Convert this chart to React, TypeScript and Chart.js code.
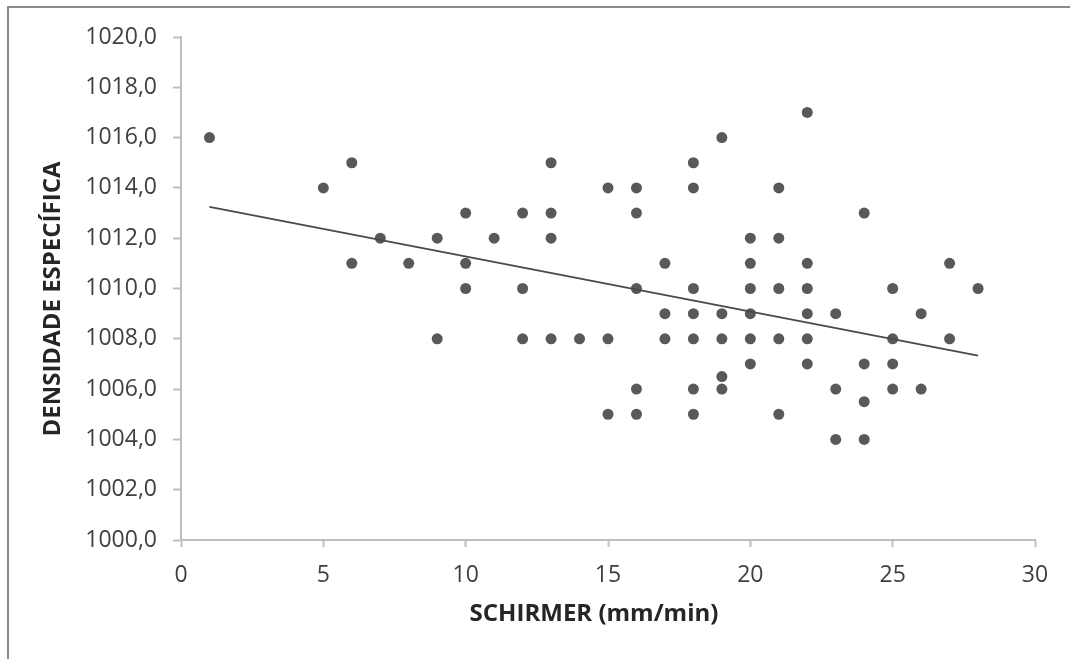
import React, { useEffect, useRef } from "react";
import { Chart, registerables } from "chart.js";

Chart.register(...registerables);

// SCHIRMER (mm/min) values for each observation
const schirmer = [
  1, 5, 6, 6, 7, 8, 9, 9, 10, 10, 10, 11, 12, 12, 12, 13, 13, 13, 13, 14,
  15, 15, 15, 16, 16, 16, 16, 16, 17, 17, 17, 18, 18, 18, 18, 18, 18, 18,
  19, 19, 19, 19, 19, 20, 20, 20, 20, 20, 20, 21, 21, 21, 21, 21,
  22, 22, 22, 22, 22, 22, 23, 23, 23, 24, 24, 24, 24, 25, 25, 25, 25,
  26, 26, 27, 27, 28,
];
// DENSIDADE ESPECÍFICA values for each observation
const densidade = [
  1016, 1014, 1015, 1011, 1012, 1011, 1012, 1008, 1013, 1011, 1010, 1012,
  1013, 1010, 1008, 1015, 1013, 1012, 1008, 1008, 1014, 1008, 1005,
  1014, 1013, 1010, 1006, 1005, 1011, 1009, 1008,
  1015, 1014, 1010, 1009, 1008, 1006, 1005,
  1016, 1009, 1008, 1006.5, 1006,
  1012, 1011, 1010, 1009, 1008, 1007,
  1014, 1012, 1010, 1008, 1005,
  1017, 1011, 1010, 1009, 1008, 1007,
  1009, 1006, 1004,
  1013, 1007, 1005.5, 1004,
  1010, 1008, 1007, 1006,
  1009, 1006,
  1011, 1008,
  1010,
];
// Linear trend line end points
const trendX = [1, 28];
const trendY = [1013.25, 1007.33];

const xTitle = "SCHIRMER (mm/min)";
const yTitle = "DENSIDADE ESPECÍFICA";
const xMin = 0, xMax = 30, xStep = 5;
const yMin = 1000, yMax = 1020, yStep = 2;

const FONT = "'Open Sans', 'Noto Sans', sans-serif";

export default function App() {
  const ref = useRef<HTMLCanvasElement | null>(null);

  useEffect(() => {
    if (!ref.current) return;
    const framePlugin = {
      id: "frameAndTitles",
      beforeDraw(chart: any) {
        const ctx = chart.ctx;
        ctx.save();
        ctx.fillStyle = "#ffffff";
        ctx.fillRect(0, 0, chart.width, chart.height);
        ctx.strokeStyle = "#8a8a8a";
        ctx.lineWidth = 2;
        ctx.beginPath();
        ctx.moveTo(8, chart.height);
        ctx.lineTo(8, 7);
        ctx.lineTo(chart.width, 7);
        ctx.stroke();
        ctx.restore();
      },
      afterDraw(chart: any) {
        const ctx = chart.ctx;
        ctx.save();
        ctx.fillStyle = "#262626";
        ctx.font = `bold 24px ${FONT}`;
        ctx.textAlign = "center";
        ctx.textBaseline = "middle";
        ctx.fillText(xTitle, 594, 614);
        ctx.translate(53, 299);
        ctx.rotate(-Math.PI / 2);
        ctx.fillText(yTitle, 0, 0);
        ctx.restore();
      },
    };

    const chart = new Chart(ref.current, {
      type: "scatter",
      data: {
        datasets: [
          {
            label: "pontos",
            data: schirmer.map((x, i) => ({ x, y: densidade[i] })),
            backgroundColor: "#595959",
            borderColor: "#595959",
            borderWidth: 0,
            pointRadius: 5.5,
            pointHoverRadius: 5.5,
            order: 2,
          },
          {
            label: "tendência",
            type: "line",
            data: trendX.map((x, i) => ({ x, y: trendY[i] })),
            borderColor: "#4a4a4a",
            borderWidth: 1.8,
            pointRadius: 0,
            fill: false,
            order: 1,
          } as any,
        ],
      },
      options: {
        responsive: false,
        animation: false,
        devicePixelRatio: 1,
        layout: { padding: { left: 0, top: 37, right: 35, bottom: 0 } },
        plugins: {
          legend: { display: false },
          tooltip: { enabled: false },
          title: { display: false },
        },
        scales: {
          x: {
            type: "linear",
            min: xMin,
            max: xMax,
            afterFit(scale: any) {
              scale.height = 119;
            },
            ticks: {
              stepSize: xStep,
              color: "#404040",
              font: { family: FONT, size: 23 },
              padding: 15,
              maxRotation: 0,
            },
            grid: {
              drawOnChartArea: false,
              drawTicks: true,
              tickLength: 7,
              tickColor: "#bfbfbf",
              tickWidth: 2,
            },
            border: { display: true, color: "#bfbfbf", width: 2 },
          },
          y: {
            type: "linear",
            min: yMin,
            max: yMax,
            afterFit(scale: any) {
              scale.width = 181;
            },
            ticks: {
              stepSize: yStep,
              color: "#404040",
              font: { family: FONT, size: 23 },
              padding: 16,
              callback: (v: any) => Number(v).toFixed(1).replace(".", ","),
            },
            grid: {
              drawOnChartArea: false,
              drawTicks: true,
              tickLength: 8,
              tickColor: "#bfbfbf",
              tickWidth: 2,
            },
            border: { display: true, color: "#bfbfbf", width: 2 },
          },
        },
      },
      plugins: [framePlugin],
    });
    return () => chart.destroy();
  }, []);

  return (
    <div
      style={{
        position: "fixed",
        left: 0,
        top: 0,
        width: 1070,
        height: 659,
        overflow: "hidden",
        background: "#fff",
      }}
    >
      <canvas ref={ref} width={1070} height={659} style={{ display: "block" }} />
    </div>
  );
}
